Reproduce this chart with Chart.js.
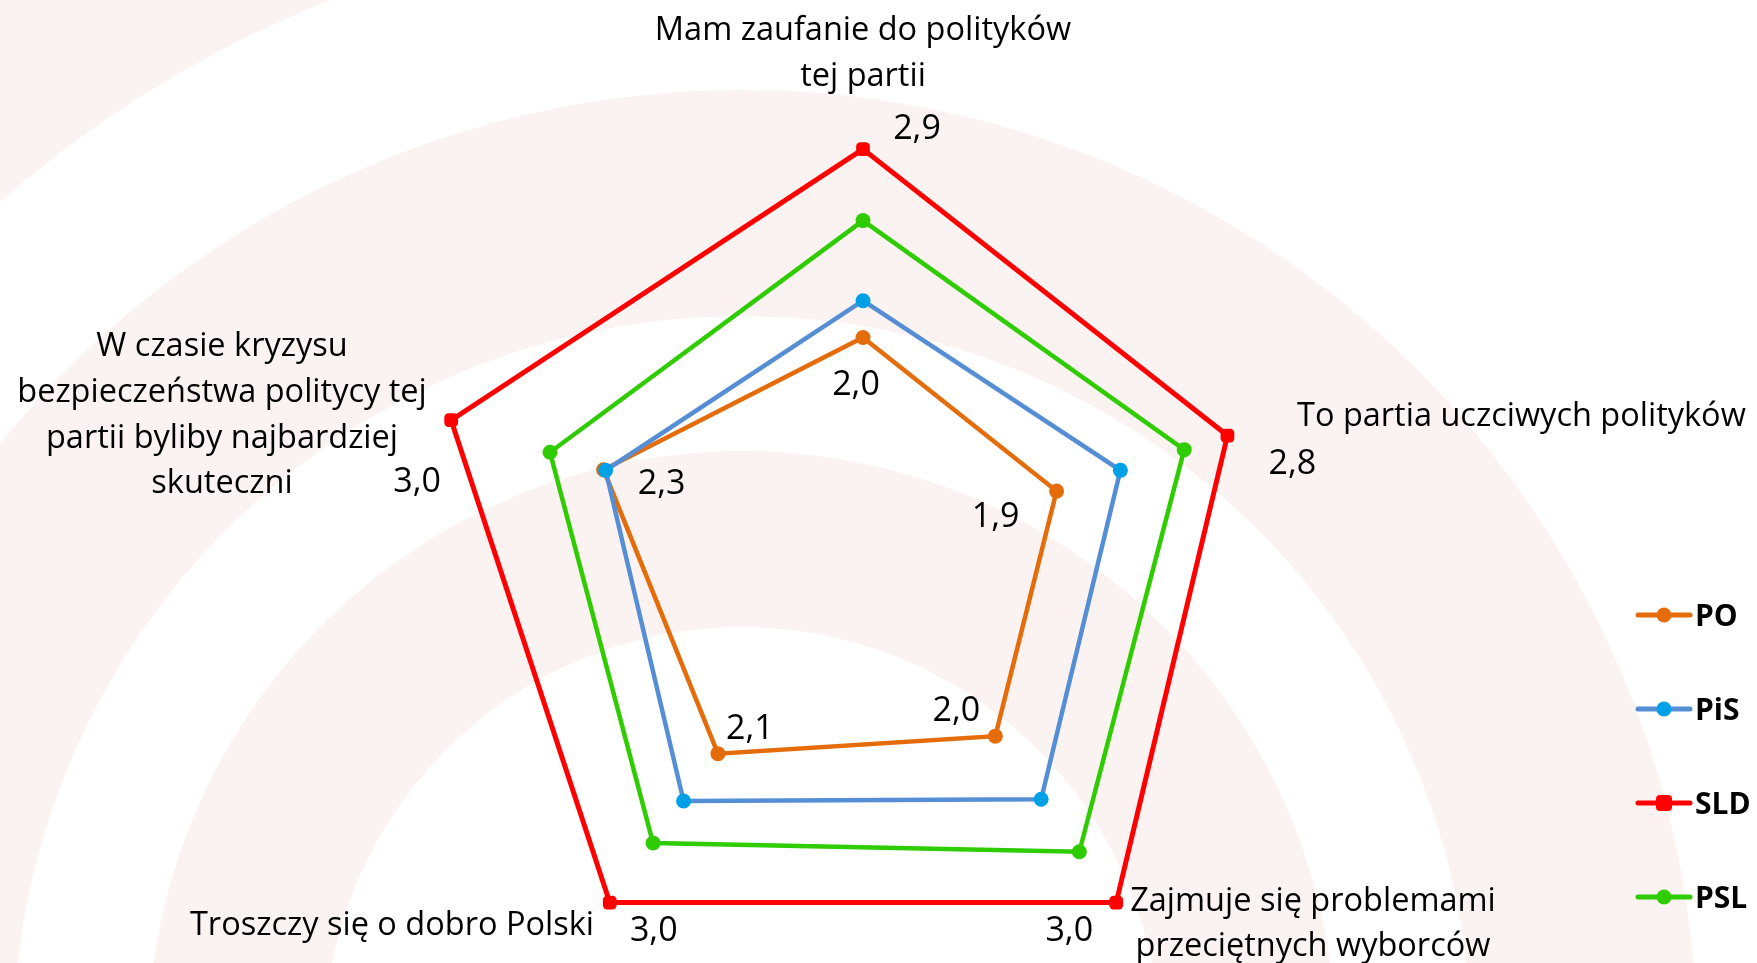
<!DOCTYPE html>
<html><head><meta charset="utf-8">
<script src="https://cdn.jsdelivr.net/npm/chart.js@4.4.1/dist/chart.umd.min.js"></script>
<style>
html,body{margin:0;padding:0;background:#fff;overflow:hidden;}
#wrap{position:relative;width:1757px;height:963px;overflow:hidden;}
#c{position:absolute;left:0;top:0;}
</style></head><body>
<div id="wrap"><canvas id="c" width="1757" height="1000"></canvas></div>
<script>
const categories = [
  ["Mam zaufanie do polityków","tej partii"],
  ["To partia uczciwych polityków"],
  ["Zajmuje się problemami","przeciętnych wyborców"],
  ["Troszczy się o dobro Polski"],
  ["W czasie kryzysu","bezpieczeństwa politycy tej","partii byliby najbardziej","skuteczni"]
];
const seriesNames = ["PO","PiS","SLD","PSL"];
const valuesPO  = [2.00, 1.94, 2.04, 2.14, 2.26];
const valuesPiS = [2.17, 2.25, 2.40, 2.41, 2.25];
const valuesSLD = [2.87, 2.77, 2.99, 2.99, 3.00];
const valuesPSL = [2.54, 2.56, 2.70, 2.65, 2.52];
const scaleMin = 1, scaleMax = 3;

const FONT = "'Open Sans', 'Noto Sans', sans-serif";

const catLayout = [
  {dx:0, dy:[-523,-477], align:'center'},
  {dx:434, dy:[-137], align:'left'},
  {dx:450, dy:[348,393], align:'center'},
  {dx:-269, dy:[372], align:'right'},
  {dx:-641, dy:[-207,-161,-115,-70], align:'center'}
];
const labelOffsetsSLD = [[54,-20],[65,29],[-47,29],[44,29],[-34,62]];
const labelOffsetsPO  = [[-7,48],[-61,26],[-39,-25],[32,-24],[58,15]];

const bgPlugin = {
  id:'bg',
  beforeDraw(chart){
    const ctx = chart.ctx;
    ctx.save();
    ctx.fillStyle = '#ffffff';
    ctx.fillRect(0,0,chart.width,chart.height);
    ctx.fillStyle = '#FBF3F2';
    const cx = 742, cy = 1045;
    const d = Math.PI/180;
    const ring = (r0,r1,a0,a1)=>{
      ctx.beginPath();
      ctx.arc(cx,cy,r1,a0*d,a1*d,false);
      ctx.arc(cx,cy,r0,a1*d,a0*d,true);
      ctx.closePath();
      ctx.fill();
    };
    ring(1123,1700,150,268);
    ring(729,955,150,390);
    ring(418,594,150,390);
    ctx.restore();
  }
};

const textPlugin = {
  id:'texts',
  afterDraw(chart){
    const ctx = chart.ctx;
    const s = chart.scales.r;
    const cx = s.xCenter, cy = s.yCenter;
    ctx.save();
    ctx.fillStyle = '#000';
    ctx.textBaseline = 'middle';
    ctx.font = `32.5px ${FONT}`;
    categories.forEach((lines,i)=>{
      const L = catLayout[i];
      ctx.textAlign = L.align;
      lines.forEach((t,j)=>ctx.fillText(t, cx+L.dx, cy+L.dy[j]));
    });
    ctx.font = `34px ${FONT}`;
    ctx.textAlign = 'center';
    const fmt = v => v.toFixed(1).replace('.',',');
    [[2,labelOffsetsSLD],[0,labelOffsetsPO]].forEach(([di,offs])=>{
      const ds = chart.data.datasets[di];
      ds.data.forEach((v,i)=>{
        const p = s.getPointPositionForValue(i, v);
        ctx.fillText(fmt(v), p.x+offs[i][0], p.y+offs[i][1]);
      });
    });
    const legX = 1638, legY0 = 615, legStep = 94;
    chart.data.datasets.forEach((ds,k)=>{
      const y = legY0 + k*legStep;
      ctx.strokeStyle = ds.borderColor;
      ctx.lineWidth = 5;
      ctx.lineCap = 'round';
      ctx.beginPath(); ctx.moveTo(legX,y); ctx.lineTo(legX+52,y); ctx.stroke();
      ctx.fillStyle = ds.pointBackgroundColor;
      if (ds.pointStyle === 'rectRounded') {
        ctx.beginPath(); ctx.roundRect(legX+26-8,y-8,16,16,4); ctx.fill();
      } else {
        ctx.beginPath(); ctx.arc(legX+26,y,7.5,0,Math.PI*2); ctx.fill();
      }
      ctx.fillStyle = '#000';
      ctx.font = `bold 30px ${FONT}`;
      ctx.textAlign = 'left';
      ctx.fillText(ds.label, legX+57, y+2);
    });
    ctx.restore();
  }
};

const colors = {
  PO:  {line:'#E46C0A', pt:'#E46C0A'},
  PiS: {line:'#558ED5', pt:'#00A0E6'},
  SLD: {line:'#FF0000', pt:'#FF0000'},
  PSL: {line:'#2ECC00', pt:'#2ECC00'}
};
const seriesValues = [valuesPO, valuesPiS, valuesSLD, valuesPSL];
const orders = [3,0,2,1];

new Chart(document.getElementById('c'), {
  type:'radar',
  data:{
    labels: categories,
    datasets: seriesNames.map((n,k)=>({
      label:n,
      data: seriesValues[k],
      borderColor: colors[n].line,
      backgroundColor: 'transparent',
      fill:false,
      borderWidth: n==='SLD'?5:4.5,
      pointStyle: n==='SLD'?'rectRounded':'circle',
      pointRadius: n==='SLD'?8:7.5,
      pointBackgroundColor: colors[n].pt,
      pointBorderColor: colors[n].pt,
      pointBorderWidth: 0,
      order: orders[k],
      tension:0
    }))
  },
  options:{
    responsive:false,
    animation:false,
    devicePixelRatio:1,
    layout:{padding:{left:430,right:460,top:121,bottom:13}},
    plugins:{legend:{display:false},tooltip:{enabled:false},title:{display:false}},
    scales:{
      r:{
        min:scaleMin, max:scaleMax,
        ticks:{display:false},
        grid:{display:false},
        angleLines:{display:false},
        pointLabels:{display:false}
      }
    }
  },
  plugins:[bgPlugin,textPlugin]
});
</script>
</body></html>
